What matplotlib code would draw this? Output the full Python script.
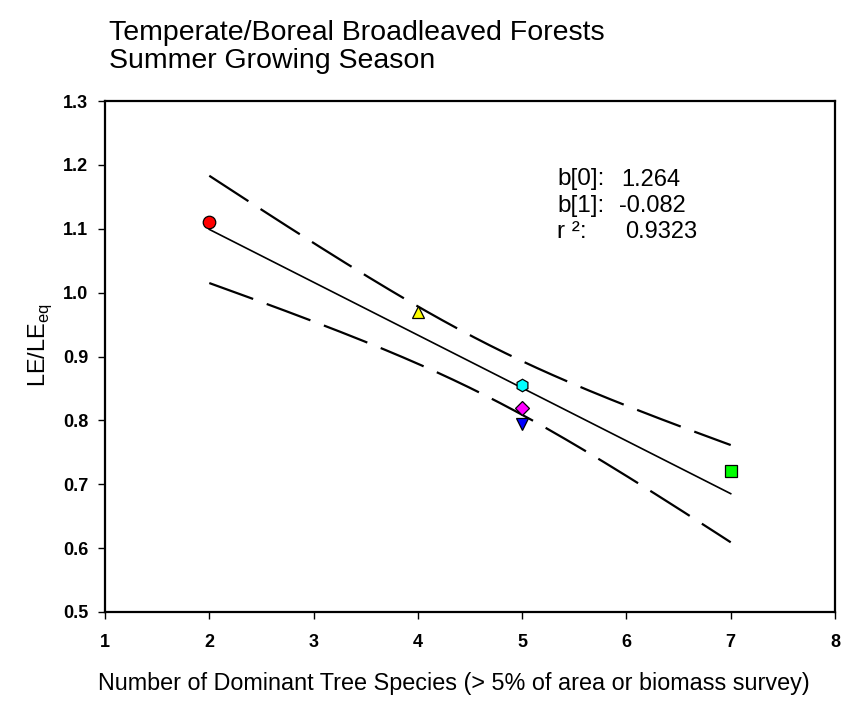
import matplotlib
matplotlib.use("Agg")
from matplotlib import pyplot as plt
import numpy as np

plt.rcParams['font.family'] = ['Liberation Sans', 'DejaVu Sans']

# data
species = [2, 4, 5, 5, 5, 7]
le_ratio = [1.11, 0.97, 0.855, 0.82, 0.795, 0.72]
markers = ['o', '^', 'h', 'D', 'v', 's']
colors = ['#ff0000', '#ffff00', '#00ffff', '#ff00ff', '#0000ff', '#00ff00']
msizes = [9, 8, 9, 7, 8, 8]

x_ticks = [1, 2, 3, 4, 5, 6, 7, 8]
y_ticks = [0.5, 0.6, 0.7, 0.8, 0.9, 1.0, 1.1, 1.2, 1.3]

# regression summary as printed on the chart
stat_names = ['b[0]:', 'b[1]:', 'r ²:']
stat_values = ['1.264', '-0.082', '0.9323']

# linear regression + confidence band
x = np.array(species, dtype=float)
y = np.array(le_ratio)
b1, b0 = np.polyfit(x, y, 1)
yhat = b0 + b1 * x
n = len(x)
mse = np.sum((y - yhat) ** 2) / (n - 2)
sxx = np.sum((x - x.mean()) ** 2)
t_val = 2.447
xf = np.linspace(x.min(), x.max(), 200)
yf = b0 + b1 * xf
half = t_val * np.sqrt(mse * (1.0 / n + (xf - x.mean()) ** 2 / sxx))

W, H = 843, 703
fig = plt.figure(figsize=(W / 100, H / 100), dpi=100)
ax = fig.add_axes([105 / W, 1 - 612 / H, 730 / W, 511 / H])

ax.plot(xf, yf, color='black', lw=1.2)
ax.plot(xf, yf + half, color='black', lw=1.6, linestyle=(0, (21, 6.5)))
ax.plot(xf, yf - half, color='black', lw=1.6, linestyle=(0, (21, 6.5)))

for xi, yi, m, c, s in zip(species, le_ratio, markers, colors, msizes):
    ax.plot(xi, yi, marker=m, markersize=s, markerfacecolor=c,
            markeredgecolor='black', markeredgewidth=0.9, linestyle='none', zorder=3)

ax.set_xlim(1, 8)
ax.set_ylim(0.5, 1.3)
ax.set_xticks(x_ticks)
ax.set_yticks(y_ticks)
ax.set_xticklabels([str(v) for v in x_ticks], fontsize=13, fontweight='bold')
ax.set_yticklabels(['%.1f' % v for v in y_ticks], fontsize=13, fontweight='bold')
ax.tick_params(direction='out', length=5, width=1)
ax.tick_params(axis='x', pad=11)
ax.tick_params(axis='y', pad=7)
for sp in ax.spines.values():
    sp.set_linewidth(1.6)

fig.text(454 / W, 1 - 690 / H,
         'Number of Dominant Tree Species (> 5% of area or biomass survey)',
         fontsize=16.8, ha='center', va='baseline')
fig.text(40 / W, 1 - 345 / H, r'LE/LE$_{\mathregular{eq}}$', fontsize=17,
         rotation=90, ha='center', va='center')

fig.text(109 / W, 1 - 40 / H, 'Temperate/Boreal Broadleaved Forests',
         fontsize=20.5, ha='left', va='baseline')
fig.text(109 / W, 1 - 68 / H, 'Summer Growing Season',
         fontsize=20.5, ha='left', va='baseline')

val_x = [621, 619, 625]
for i in range(3):
    yy = 1 - (185.5 + i * 26.3) / H
    fig.text(557 / W, yy, stat_names[i], fontsize=17.5, va='baseline')
    fig.text(val_x[i] / W, yy, stat_values[i], fontsize=17, va='baseline')

fig.savefig('out.png', dpi=100)
